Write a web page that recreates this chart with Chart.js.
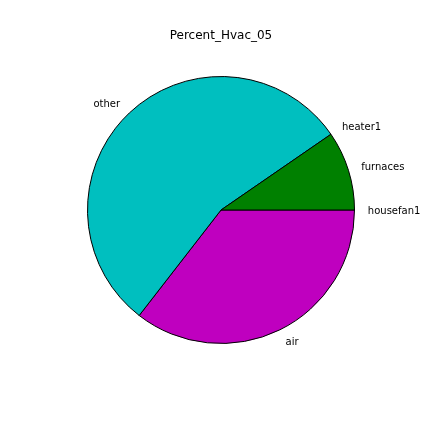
<!DOCTYPE html>
<html>
<head>
<meta charset="utf-8">
<script src="https://cdn.jsdelivr.net/npm/chart.js@4/dist/chart.umd.min.js"></script>
<style>
  html, body { margin: 0; padding: 0; background: #fff; }
  #wrap { width: 432px; height: 432px; position: relative; }
</style>
</head>
<body>
<div id="wrap"><canvas id="pie"></canvas></div>
<script>
// matplotlib order (counter-clockwise from 3 o'clock)
const categories = ['housefan1', 'furnaces', 'heater1', 'other', 'air'];
const percents = [0, 9.6, 0, 54.9, 35.5];
const sliceColors = ['#0000FF', '#008000', '#FF0000', '#00BFBF', '#BF00BF'];

// Chart.js draws clockwise, so feed it reversed
const labelsCw = categories.slice().reverse();
const valuesCw = percents.slice().reverse();
const colorsCw = sliceColors.slice().reverse();

const outerLabels = {
  id: 'outerLabels',
  afterDatasetsDraw(chart) {
    const ctx = chart.ctx;
    const meta = chart.getDatasetMeta(0);
    ctx.save();
    ctx.font = '10px "DejaVu Sans"';
    ctx.fillStyle = '#000';
    ctx.textBaseline = 'middle';
    meta.data.forEach(function (arc, i) {
      const p = arc.getProps(['x', 'y', 'startAngle', 'endAngle', 'outerRadius'], true);
      const mid = (p.startAngle + p.endAngle) / 2;
      const r = p.outerRadius * 1.1;
      const x = p.x + r * Math.cos(mid);
      const y = p.y + r * Math.sin(mid);
      ctx.textAlign = Math.cos(mid) > 1e-9 ? 'left' : 'right';
      ctx.fillText(labelsCw[i], x, y + 1);
    });
    ctx.restore();
  }
};

new Chart(document.getElementById('pie'), {
  type: 'pie',
  data: {
    labels: labelsCw,
    datasets: [{ data: valuesCw, backgroundColor: colorsCw, borderColor: '#000', borderWidth: 1 }]
  },
  options: {
    responsive: true, maintainAspectRatio: false, animation: false,
    rotation: 90,
    layout: { padding: { left: 86, right: 76, top: 0, bottom: 88 } },
    events: [],
    plugins: {
      legend: { display: false },
      tooltip: { enabled: false },
      title: {
        display: true, text: 'Percent_Hvac_05', color: '#000',
        font: { family: 'DejaVu Sans', size: 12, weight: 'normal' },
        padding: { top: 28.5, bottom: 33.1 }
      }
    }
  },
  plugins: [outerLabels]
});
</script>
</body>
</html>
